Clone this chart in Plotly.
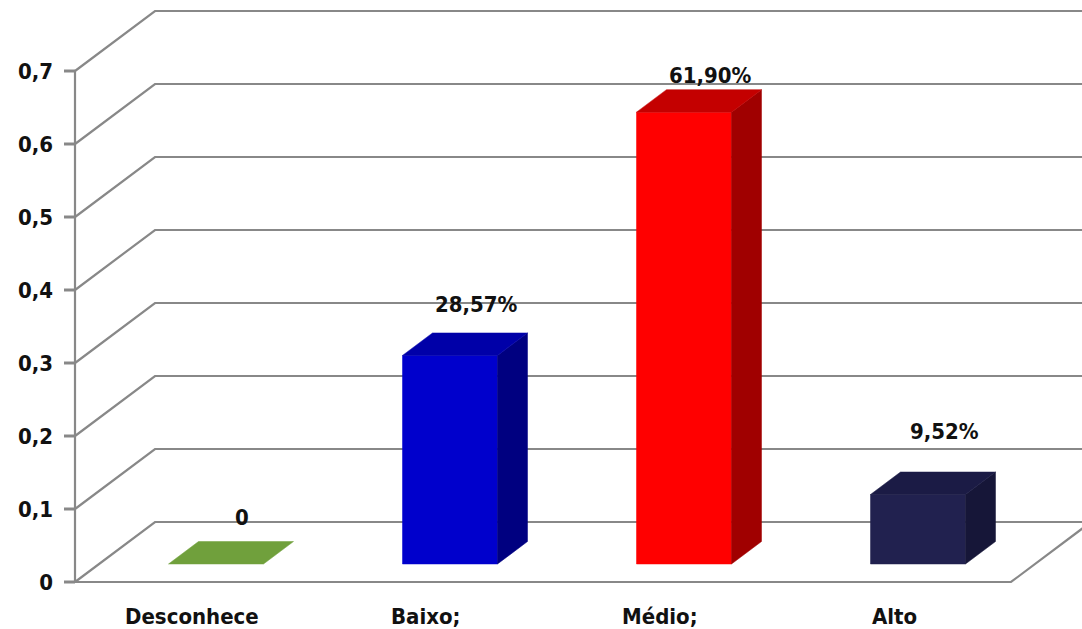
import plotly.graph_objects as go

# ---- data ----
categories = ["Desconhece", "Baixo;", "Médio;", "Alto"]
values = [0.0, 0.2857, 0.6190, 0.0952]
value_labels = ["0", "28,57%", "61,90%", "9,52%"]
tick_values = [0, 0.1, 0.2, 0.3, 0.4, 0.5, 0.6, 0.7]
tick_labels = ["0", "0,1", "0,2", "0,3", "0,4", "0,5", "0,6", "0,7"]

# ---- style ----
front_colors = ["#70A03C", "#0000CC", "#FF0000", "#21214F"]
top_colors = ["#70A03C", "#0000A8", "#C40000", "#1B1B45"]
side_colors = ["#70A03C", "#000080", "#A00000", "#161638"]
grid_color = "#888888"
FONT = "DejaVu Sans Condensed, DejaVu Sans"
TEXT_SIZE = 22

W, H = 1082, 629
ML = 54                      # left margin (room for tick labels)
PX_X = 234.0                 # pixels per category step
PX_Y = 730.0                 # pixels per 1.0 of value
FRONT_LEFT_PX = 75           # pixel column of the front-left axis
ZERO_PX = 582                # pixel row of value 0 on the front plane

DX = 80 / PX_X               # depth of the wall/floor box (x units)
DY = 60 / PX_Y               # depth of the wall/floor box (y units)
BAR_W = 95 / PX_X
BAR_F0, BAR_F1 = 0.30, 0.675  # bar front/back as fraction of box depth
LABEL_LIFT_PX = [47, 51, 37, 63]
LABEL_SHIFT_PX = 26

x_left = -0.5 - (FRONT_LEFT_PX - ML) / PX_X
x_right = x_left + (W - ML) / PX_X
y_top = ZERO_PX / PX_Y
y_bot = -(H - ZERO_PX) / PX_Y

fig = go.Figure()


def seg(xs, ys, width=2.2):
    fig.add_trace(go.Scatter(x=xs, y=ys, mode="lines",
                             line=dict(color=grid_color, width=width),
                             hoverinfo="skip", showlegend=False))


def poly(xs, ys, color):
    fig.add_trace(go.Scatter(x=xs + [xs[0]], y=ys + [ys[0]], mode="lines",
                             fill="toself", fillcolor=color,
                             line=dict(color=color, width=0.5),
                             hoverinfo="skip", showlegend=False))


n = len(categories)
x0, x1 = -0.5, n - 0.5

# side wall and back wall gridlines
for v in tick_values:
    seg([x0, x0 + DX, x1 + DX + 0.2], [v, v + DY, v + DY])
# floor front edge and right edge
seg([x0, x1, x1 + DX], [0, 0, DY])
# front vertical axis with tick marks
seg([x0, x0], [0, tick_values[-1]])
for v in tick_values:
    seg([x0 - 11 / PX_X, x0], [v, v], width=3)

# 3-D bars
for i, v in enumerate(values):
    xl, xr = i - BAR_W / 2, i + BAR_W / 2
    fx0, fy0 = BAR_F0 * DX, BAR_F0 * DY
    fx1, fy1 = BAR_F1 * DX, BAR_F1 * DY
    if v > 0:
        poly([xl + fx0, xr + fx0, xr + fx0, xl + fx0],
             [fy0, fy0, v + fy0, v + fy0], front_colors[i])
        poly([xr + fx0, xr + fx1, xr + fx1, xr + fx0],
             [fy0, fy1, v + fy1, v + fy0], side_colors[i])
    poly([xl + fx0, xr + fx0, xr + fx1, xl + fx1],
         [v + fy0, v + fy0, v + fy1, v + fy1], top_colors[i])
    fig.add_annotation(x=i + fx0 + LABEL_SHIFT_PX / PX_X,
                       y=v + fy0 + LABEL_LIFT_PX[i] / PX_Y,
                       text=value_labels[i], showarrow=False,
                       font=dict(family=FONT, size=TEXT_SIZE, color="#111111",
                                 weight="bold"))

# category labels below the floor
for i, c in enumerate(categories):
    fig.add_annotation(x=i, y=-34 / PX_Y, text=c, showarrow=False,
                       font=dict(family=FONT, size=TEXT_SIZE, color="#111111",
                                 weight="bold"))

fig.update_layout(
    width=W, height=H,
    margin=dict(l=ML, r=0, t=0, b=0),
    paper_bgcolor="white", plot_bgcolor="white",
    showlegend=False,
    xaxis=dict(range=[x_left, x_right], visible=False, fixedrange=True),
    yaxis=dict(range=[y_bot, y_top], tickvals=tick_values,
               ticktext=tick_labels, showgrid=False, zeroline=False,
               showline=False, ticks="",
               tickfont=dict(family=FONT, size=TEXT_SIZE, color="#111111",
                             weight="bold"),
               fixedrange=True),
)

fig.write_html("out.html")
